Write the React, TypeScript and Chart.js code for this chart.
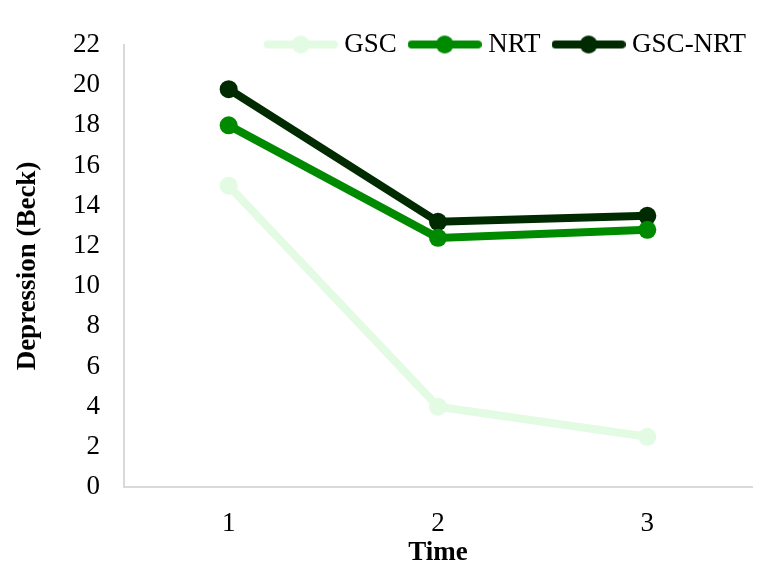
import React, { useEffect, useRef } from "react";
import { Chart, registerables } from "chart.js";

Chart.register(...registerables);

const timeLabels = ["1", "2", "3"];
const gscValues = [15, 4, 2.5];
const nrtValues = [18, 12.4, 12.8];
const gscNrtValues = [19.8, 13.2, 13.5];
const seriesNames = ["GSC", "NRT", "GSC-NRT"];
const seriesColors = ["#e3fae3", "#008a00", "#002a00"];
const yTicksMin = 0;
const yTicksMax = 22;
const yTicksStep = 2;

const FONT = "'Liberation Serif', 'Times New Roman', serif";

function legendImage(color: string): HTMLCanvasElement {
  const c = document.createElement("canvas");
  c.width = 74;
  c.height = 22;
  const ctx = c.getContext("2d")!;
  ctx.strokeStyle = color;
  ctx.lineWidth = 8;
  ctx.lineCap = "round";
  ctx.beginPath();
  ctx.moveTo(4, 11);
  ctx.lineTo(70, 11);
  ctx.stroke();
  ctx.fillStyle = color;
  ctx.beginPath();
  ctx.arc(37, 11, 9, 0, Math.PI * 2);
  ctx.fill();
  return c;
}

const legendBoxPlugin = {
  id: "legendBoxExpand",
  afterLayout(chart: any) {
    const l = chart.legend;
    if (l) {
      l.height = 80;
      l.bottom = l.top + 80;
    }
  },
};

export default function App() {
  const ref = useRef<HTMLCanvasElement>(null);
  useEffect(() => {
    const images = seriesColors.map(legendImage);
    const values = [gscValues, nrtValues, gscNrtValues];
    const chart = new Chart(ref.current!, {
      type: "line",
      data: {
        labels: timeLabels,
        datasets: seriesNames.map((name, i) => ({
          label: name,
          data: values[i],
          borderColor: seriesColors[i],
          backgroundColor: seriesColors[i],
          pointBackgroundColor: seriesColors[i],
          pointBorderColor: seriesColors[i],
          borderWidth: 8,
          pointRadius: 9,
          pointBorderWidth: 0,
          tension: 0,
          fill: false,
        })),
      },
      plugins: [legendBoxPlugin],
      options: {
        animation: false,
        responsive: false,
        maintainAspectRatio: false,
        layout: { padding: { top: 13, right: 0, bottom: 0, left: 0 } },
        plugins: {
          tooltip: { enabled: false },
          legend: {
            position: "top",
            align: "end",
            maxHeight: 32,
            labels: {
              usePointStyle: true,
              pointStyleWidth: 60,
              padding: 18,
              color: "#000",
              font: { family: FONT, size: 27 },
              generateLabels: (ch: any) => {
                const items = Chart.defaults.plugins.legend.labels.generateLabels(ch);
                return items.map((it: any, i: number) => ({
                  ...it,
                  pointStyle: images[i],
                }));
              },
            },
          },
        },
        scales: {
          x: {
            offset: true,
            grid: { display: false, drawTicks: false },
            border: { display: true, color: "#d9d9d9", width: 2 },
            ticks: {
              color: "#000",
              padding: 21,
              font: { family: FONT, size: 27 },
            },
            title: {
              display: true,
              text: "Time",
              color: "#000",
              padding: { top: 0, bottom: 2 },
              font: { family: FONT, size: 27, weight: "bold" },
            },
            afterFit: (s: any) => {
              s.height = 84;
            },
          },
          y: {
            min: yTicksMin,
            max: yTicksMax,
            grid: { display: false, drawTicks: false },
            border: { display: true, color: "#d9d9d9", width: 2 },
            ticks: {
              stepSize: yTicksStep,
              color: "#000",
              padding: 24,
              font: { family: FONT, size: 27 },
            },
            title: {
              display: true,
              text: "Depression (Beck)",
              color: "#000",
              padding: { top: 12, bottom: 0 },
              font: { family: FONT, size: 27, weight: "bold" },
            },
            afterFit: (s: any) => {
              s.width = 124;
            },
          },
          yR: {
            position: "right",
            display: true,
            grid: { display: false, drawTicks: false },
            border: { display: false },
            ticks: { display: false },
            afterFit: (s: any) => {
              s.width = 12;
            },
          },
        },
      },
    } as any);
    return () => chart.destroy();
  }, []);
  return (
    <div style={{ position: "fixed", left: 0, top: 0, width: 764, height: 571, background: "#fff" }}>
      <canvas ref={ref} width={764} height={571} style={{ width: 764, height: 571 }} />
    </div>
  );
}
